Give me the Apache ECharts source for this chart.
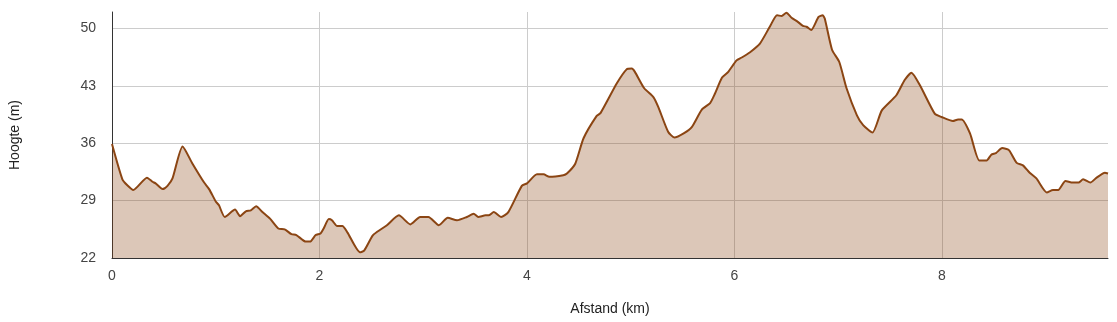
<!DOCTYPE html>
<html>
<head>
<meta charset="utf-8">
<script src="https://cdn.jsdelivr.net/npm/echarts@6/dist/echarts.min.js"></script>
<style>html,body{margin:0;padding:0;background:#fff}#c{width:1117px;height:322px}</style>
</head>
<body>
<div id="c"></div>
<script>
const distanceKm = [0,0.10,0.15,0.205,0.337,0.39,0.42,0.488,0.535,0.583,0.68,0.776,0.888,0.936,1.0,1.03,1.087,1.186,1.234,1.29,1.338,1.389,1.45,1.523,1.603,1.664,1.73,1.777,1.867,1.909,1.963,2.01,2.04,2.09,2.12,2.17,2.22,2.27,2.39,2.43,2.51,2.556,2.65,2.765,2.876,2.97,3.05,3.15,3.236,3.325,3.42,3.486,3.53,3.6,3.63,3.68,3.75,3.82,3.95,4.0,4.096,4.16,4.215,4.35,4.385,4.465,4.545,4.67,4.71,4.866,4.96,5.01,5.04,5.13,5.22,5.266,5.36,5.42,5.51,5.59,5.685,5.765,5.81,5.88,5.94,6.02,6.07,6.15,6.245,6.34,6.41,6.455,6.50,6.55,6.61,6.66,6.695,6.74,6.81,6.85,6.87,6.94,7.01,7.08,7.18,7.24,7.33,7.42,7.56,7.64,7.705,7.786,7.93,7.995,8.105,8.155,8.19,8.27,8.36,8.43,8.475,8.52,8.58,8.645,8.72,8.78,8.845,8.91,9.01,9.07,9.12,9.19,9.26,9.316,9.36,9.43,9.49,9.57,9.6];
const elevationM = [35.9,31.6,30.85,30.3,31.8,31.3,31.1,30.4,30.8,31.7,35.6,33.5,31.2,30.4,28.9,28.45,27.0,27.9,27.1,27.7,27.8,28.3,27.6,26.8,25.6,25.5,24.9,24.8,24.0,24.0,24.8,25.0,25.6,26.75,26.6,25.9,25.9,25.1,22.7,22.9,24.7,25.2,26.0,27.2,26.1,27.0,27.0,26.0,26.9,26.6,27.0,27.4,27.0,27.2,27.2,27.6,27.0,27.6,30.8,31.1,32.2,32.2,31.9,32.1,32.3,33.5,36.6,39.3,39.7,43.3,45.0,45.1,44.7,42.7,41.6,40.4,37.4,36.7,37.2,38.0,40.1,40.9,42.0,44.0,44.7,46.1,46.45,47.1,48.15,50.2,51.6,51.5,51.9,51.3,50.8,50.3,50.2,49.8,51.4,51.6,51.2,47.4,45.9,42.7,39.4,38.2,37.3,40.0,41.85,43.7,44.6,43.1,39.6,39.2,38.7,38.9,38.9,37.2,33.9,33.9,34.6,34.8,35.4,35.15,33.6,33.3,32.4,31.7,30.0,30.3,30.3,31.4,31.2,31.2,31.6,31.2,31.8,32.4,32.3];
const xTitle = 'Afstand (km)';
const yTitle = 'Hoogte (m)';

const chart = echarts.init(document.getElementById('c'), null, {renderer: 'canvas'});
const font = 'Arial, "Liberation Sans", sans-serif';
chart.setOption({
  animation: false,
  grid: {left: 111, right: 9, top: 12, bottom: 64, containLabel: false},
  xAxis: {
    type: 'value', min: 0, max: 9.6, interval: 2,
    name: xTitle, nameLocation: 'middle', nameGap: 44,
    nameTextStyle: {color: '#222', fontSize: 14, fontFamily: font},
    axisLine: {show: true, onZero: false, lineStyle: {color: '#333', width: 1}},
    axisTick: {show: false},
    axisLabel: {color: '#444', fontSize: 14, fontFamily: font, margin: 11, showMaxLabel: false},
    splitLine: {show: true, showMinLine: false, showMaxLine: false, lineStyle: {color: '#cccccc', width: 1}}
  },
  yAxis: {
    type: 'value', min: 22, max: 52, interval: 7,
    name: yTitle, nameLocation: 'middle', nameGap: 90, nameRotate: 90,
    nameTextStyle: {color: '#222', fontSize: 14, fontFamily: font},
    axisLine: {show: true, lineStyle: {color: '#333', width: 1}},
    axisTick: {show: false},
    axisLabel: {color: '#444', fontSize: 14, fontFamily: font, margin: 16, showMaxLabel: false},
    splitLine: {show: true, showMinLine: false, showMaxLine: false, lineStyle: {color: '#cccccc', width: 1}}
  },
  series: [{
    type: 'line',
    data: distanceKm.map((d, i) => [d, elevationM[i]]),
    smooth: 0.2,
    showSymbol: false,
    lineStyle: {color: '#8b4513', width: 2},
    areaStyle: {color: 'rgba(139,69,19,0.3)', opacity: 1, origin: 'start'},
    z: 2
  }]
});
</script>
</body>
</html>
